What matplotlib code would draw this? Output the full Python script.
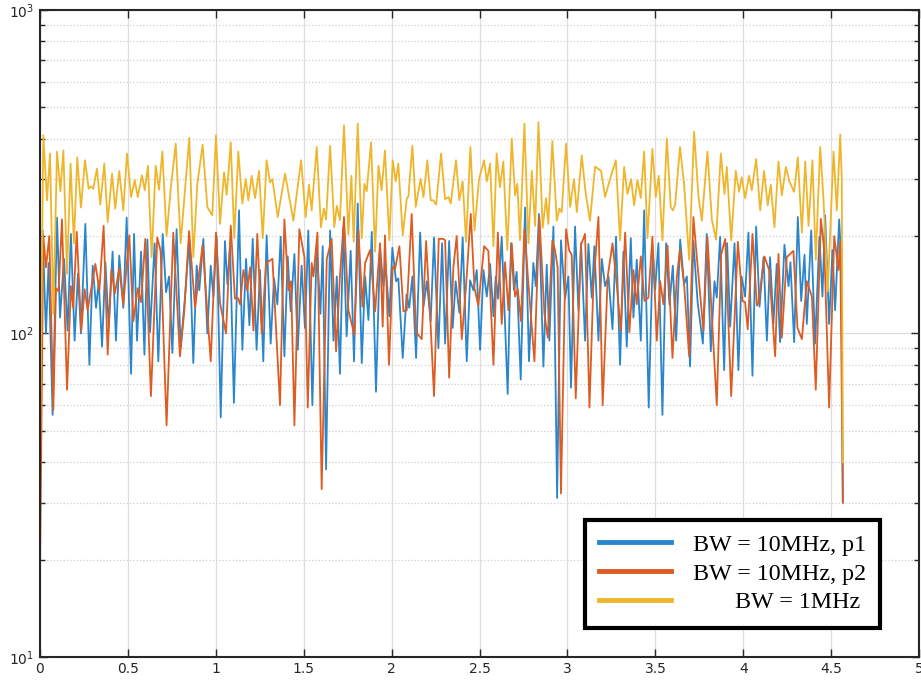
import numpy as np
import matplotlib.pyplot as plt
from matplotlib.ticker import FixedLocator, LogLocator, NullFormatter

# (x, value) pairs, one list per curve
blue = [
    (0.000, 30), (0.015, 208), (0.034, 100), (0.049, 165), (0.072, 56), (0.097, 228),
    (0.114, 112), (0.137, 170), (0.157, 102), (0.176, 203), (0.197, 95), (0.216, 153),
    (0.233, 100), (0.258, 218), (0.281, 80), (0.300, 162), (0.319, 120), (0.334, 145),
    (0.353, 91), (0.372, 166), (0.391, 105), (0.413, 179), (0.432, 95), (0.451, 174),
    (0.474, 120), (0.493, 228), (0.518, 75), (0.535, 203), (0.552, 95), (0.575, 179),
    (0.594, 86), (0.611, 195), (0.626, 101), (0.652, 190), (0.673, 82), (0.698, 203),
    (0.717, 134), (0.734, 150), (0.753, 87), (0.777, 210), (0.800, 90), (0.825, 130),
    (0.849, 196), (0.872, 81), (0.891, 162), (0.906, 136), (0.929, 196), (0.952, 100),
    (0.971, 162), (0.986, 130), (1.005, 200), (1.028, 55), (1.052, 193), (1.066, 142),
    (1.081, 186), (1.103, 61), (1.132, 240), (1.151, 89), (1.172, 170), (1.191, 106),
    (1.210, 196), (1.232, 89), (1.251, 157), (1.270, 82), (1.289, 201), (1.312, 93),
    (1.331, 148), (1.350, 123), (1.369, 199), (1.390, 85), (1.409, 173), (1.426, 117),
    (1.447, 176), (1.466, 89), (1.488, 162), (1.507, 104), (1.526, 208), (1.549, 60),
    (1.574, 186), (1.595, 115), (1.608, 186), (1.627, 38), (1.650, 208), (1.669, 95),
    (1.688, 150), (1.706, 75), (1.725, 212), (1.744, 98), (1.767, 180), (1.786, 82),
    (1.807, 252), (1.830, 81), (1.849, 150), (1.868, 110), (1.887, 206), (1.911, 66),
    (1.934, 184), (1.953, 140), (1.966, 162), (1.987, 113), (2.004, 184), (2.025, 145),
    (2.038, 148), (2.063, 84), (2.085, 132), (2.100, 120), (2.118, 150), (2.139, 84),
    (2.162, 205), (2.181, 121), (2.200, 145), (2.222, 109), (2.241, 198), (2.266, 90),
    (2.287, 190), (2.304, 93), (2.327, 193), (2.347, 104), (2.364, 145), (2.385, 116),
    (2.404, 198), (2.427, 82), (2.446, 146), (2.465, 136), (2.484, 157), (2.503, 89),
    (2.522, 157), (2.541, 130), (2.560, 164), (2.579, 113), (2.592, 150), (2.605, 128),
    (2.626, 199), (2.660, 65), (2.679, 190), (2.696, 136), (2.711, 155), (2.734, 72),
    (2.759, 245), (2.781, 82), (2.806, 165), (2.820, 140), (2.838, 234), (2.863, 79),
    (2.882, 163), (2.897, 95), (2.920, 214), (2.941, 31), (2.963, 194), (2.986, 128),
    (3.005, 150), (3.020, 68), (3.043, 214), (3.062, 118), (3.077, 190), (3.100, 95),
    (3.119, 189), (3.138, 129), (3.153, 186), (3.176, 95), (3.195, 170), (3.214, 140),
    (3.233, 150), (3.256, 103), (3.276, 199), (3.299, 80), (3.318, 179), (3.337, 91),
    (3.360, 197), (3.375, 112), (3.394, 169), (3.417, 95), (3.436, 240), (3.462, 59),
    (3.485, 180), (3.498, 136), (3.517, 190), (3.540, 56), (3.561, 190), (3.580, 123),
    (3.599, 162), (3.618, 95), (3.641, 195), (3.663, 142), (3.679, 150), (3.697, 79),
    (3.716, 193), (3.740, 125), (3.770, 93), (3.792, 203), (3.815, 88), (3.836, 145),
    (3.849, 129), (3.868, 199), (3.891, 77), (3.908, 190), (3.925, 105), (3.950, 190),
    (3.972, 77), (3.990, 150), (4.010, 130), (4.029, 205), (4.052, 74), (4.073, 214),
    (4.092, 121), (4.115, 172), (4.134, 95), (4.152, 172), (4.171, 107), (4.190, 164),
    (4.209, 94), (4.234, 188), (4.257, 140), (4.268, 166), (4.289, 94), (4.310, 229),
    (4.329, 126), (4.348, 175), (4.361, 107), (4.386, 208), (4.408, 93), (4.433, 199),
    (4.450, 130), (4.465, 232), (4.488, 107), (4.507, 181), (4.522, 118), (4.545, 225),
    (4.558, 165), (4.566, 30),
]

red = [
    (0.000, 18), (0.019, 200), (0.034, 160), (0.053, 200), (0.076, 58), (0.091, 138),
    (0.106, 135), (0.125, 225), (0.154, 67), (0.176, 140), (0.189, 120), (0.209, 206),
    (0.235, 102), (0.254, 137), (0.271, 118), (0.315, 164), (0.338, 136), (0.362, 215),
    (0.385, 86), (0.406, 157), (0.426, 133), (0.451, 159), (0.474, 123), (0.508, 201),
    (0.531, 109), (0.556, 138), (0.575, 125), (0.599, 196), (0.631, 64), (0.667, 198),
    (0.686, 180), (0.720, 52), (0.758, 205), (0.796, 85), (0.821, 118), (0.848, 207),
    (0.882, 120), (0.925, 188), (0.971, 82), (1.001, 205), (1.024, 124), (1.058, 100),
    (1.085, 215), (1.109, 128), (1.124, 129), (1.138, 123), (1.157, 157), (1.179, 136),
    (1.195, 160), (1.214, 102), (1.236, 203), (1.261, 100), (1.286, 165), (1.322, 170),
    (1.365, 60), (1.390, 225), (1.413, 136), (1.428, 145), (1.447, 52), (1.475, 210),
    (1.504, 172), (1.523, 59), (1.545, 165), (1.555, 150), (1.578, 205), (1.602, 33),
    (1.631, 170), (1.659, 196), (1.684, 88), (1.706, 150), (1.729, 229), (1.754, 118),
    (1.788, 99), (1.811, 208), (1.834, 121), (1.849, 165), (1.877, 181), (1.906, 117),
    (1.934, 190), (1.949, 105), (1.962, 201), (1.985, 80), (2.006, 161), (2.019, 158),
    (2.044, 186), (2.067, 117), (2.086, 118), (2.114, 234), (2.139, 101), (2.171, 96),
    (2.196, 193), (2.218, 117), (2.241, 64), (2.268, 196), (2.294, 196), (2.304, 194),
    (2.327, 73), (2.351, 160), (2.370, 200), (2.399, 96), (2.423, 140), (2.450, 234),
    (2.471, 138), (2.493, 122), (2.526, 186), (2.550, 180), (2.579, 80), (2.604, 205),
    (2.626, 107), (2.645, 166), (2.664, 118), (2.683, 190), (2.702, 130), (2.717, 137),
    (2.736, 109), (2.755, 210), (2.778, 142), (2.812, 82), (2.840, 229), (2.869, 115),
    (2.888, 97), (2.914, 194), (2.929, 181), (2.944, 160), (2.963, 32), (2.992, 210),
    (3.009, 181), (3.024, 175), (3.047, 63), (3.077, 188), (3.100, 203), (3.125, 59),
    (3.147, 140), (3.176, 229), (3.200, 60), (3.229, 150), (3.256, 190), (3.280, 142),
    (3.303, 102), (3.328, 205), (3.352, 101), (3.375, 157), (3.394, 123), (3.417, 173),
    (3.438, 126), (3.460, 129), (3.483, 199), (3.508, 95), (3.527, 145), (3.546, 123),
    (3.569, 187), (3.597, 84), (3.622, 150), (3.640, 182), (3.663, 142), (3.692, 85),
    (3.716, 229), (3.739, 164), (3.773, 102), (3.796, 199), (3.821, 113), (3.849, 60),
    (3.874, 175), (3.897, 196), (3.931, 64), (3.969, 192), (3.995, 126), (4.010, 125),
    (4.025, 103), (4.052, 203), (4.077, 122), (4.086, 124), (4.120, 173), (4.147, 157),
    (4.181, 85), (4.200, 176), (4.219, 97), (4.247, 172), (4.285, 180), (4.308, 104),
    (4.333, 96), (4.361, 145), (4.390, 130), (4.412, 67), (4.441, 226), (4.461, 180),
    (4.488, 59), (4.517, 200), (4.541, 157), (4.551, 192), (4.566, 30),
]

yellow = [
    (0.000, 40), (0.019, 410), (0.040, 258), (0.057, 360), (0.076, 115), (0.097, 365),
    (0.116, 275), (0.133, 368), (0.154, 153), (0.174, 335), (0.193, 190), (0.212, 350),
    (0.233, 245), (0.256, 343), (0.277, 280), (0.290, 285), (0.303, 280), (0.324, 323),
    (0.343, 250), (0.366, 335), (0.385, 221), (0.410, 312), (0.428, 243), (0.451, 318),
    (0.474, 240), (0.495, 360), (0.518, 264), (0.539, 298), (0.556, 264), (0.580, 308),
    (0.596, 277), (0.614, 330), (0.635, 172), (0.658, 330), (0.677, 278), (0.696, 365),
    (0.720, 200), (0.745, 285), (0.772, 386), (0.800, 190), (0.849, 402), (0.872, 172),
    (0.895, 290), (0.925, 383), (0.952, 246), (0.967, 238), (0.980, 232), (1.001, 410),
    (1.024, 218), (1.047, 315), (1.062, 268), (1.085, 390), (1.105, 197), (1.128, 365),
    (1.151, 252), (1.170, 300), (1.185, 258), (1.204, 307), (1.223, 262), (1.246, 318),
    (1.267, 197), (1.289, 343), (1.308, 293), (1.322, 300), (1.352, 229), (1.394, 312),
    (1.441, 223), (1.485, 343), (1.511, 229), (1.530, 288), (1.545, 240), (1.574, 377),
    (1.598, 213), (1.614, 243), (1.627, 225), (1.650, 380), (1.674, 213), (1.688, 248),
    (1.706, 224), (1.729, 440), (1.754, 202), (1.771, 307), (1.784, 192), (1.807, 445),
    (1.830, 197), (1.845, 290), (1.858, 275), (1.883, 390), (1.906, 179), (1.925, 330),
    (1.943, 277), (1.962, 368), (1.987, 194), (2.006, 343), (2.023, 295), (2.038, 335),
    (2.063, 201), (2.086, 261), (2.095, 265), (2.118, 380), (2.137, 246), (2.152, 275),
    (2.165, 300), (2.181, 264), (2.203, 343), (2.222, 258), (2.237, 258), (2.253, 250),
    (2.281, 360), (2.304, 260), (2.323, 264), (2.336, 252), (2.366, 343), (2.385, 258),
    (2.404, 295), (2.423, 192), (2.448, 377), (2.471, 208), (2.497, 300), (2.526, 343),
    (2.541, 295), (2.560, 335), (2.579, 186), (2.597, 360), (2.616, 283), (2.635, 340),
    (2.658, 181), (2.683, 400), (2.702, 267), (2.715, 290), (2.730, 194), (2.755, 445),
    (2.778, 190), (2.797, 318), (2.816, 215), (2.835, 450), (2.859, 212), (2.878, 262),
    (2.891, 218), (2.914, 393), (2.939, 223), (2.954, 243), (2.967, 237), (2.992, 386),
    (3.015, 246), (3.037, 300), (3.053, 237), (3.081, 355), (3.104, 270), (3.128, 223),
    (3.157, 328), (3.191, 318), (3.214, 264), (3.242, 300), (3.275, 343), (3.299, 194),
    (3.322, 327), (3.341, 270), (3.362, 300), (3.379, 249), (3.398, 298), (3.417, 262),
    (3.436, 365), (3.455, 197), (3.483, 372), (3.502, 264), (3.519, 307), (3.540, 194),
    (3.565, 400), (3.587, 246), (3.599, 240), (3.612, 249), (3.640, 377), (3.663, 290),
    (3.692, 169), (3.720, 420), (3.745, 265), (3.764, 223), (3.796, 365), (3.821, 225),
    (3.845, 195), (3.872, 360), (3.893, 270), (3.906, 327), (3.931, 194), (3.957, 318),
    (3.976, 274), (3.991, 304), (4.010, 262), (4.033, 307), (4.048, 277), (4.073, 346),
    (4.096, 240), (4.118, 318), (4.139, 249), (4.156, 288), (4.177, 213), (4.200, 340),
    (4.219, 267), (4.242, 327), (4.262, 295), (4.289, 274), (4.310, 350), (4.333, 205),
    (4.352, 340), (4.371, 215), (4.393, 343), (4.412, 169), (4.437, 377), (4.456, 260),
    (4.480, 135), (4.513, 365), (4.532, 240), (4.551, 412), (4.560, 300), (4.566, 40),
]

labels = ['BW = 10MHz, p1', 'BW = 10MHz, p2', '       BW = 1MHz']
colors = ['#2a86cc', '#dc5c22', '#efb62c']
x_ticks = [0, 0.5, 1, 1.5, 2, 2.5, 3, 3.5, 4, 4.5, 5]
x_tick_labels = ['0', '0.5', '1', '1.5', '2', '2.5', '3', '3.5', '4', '4.5', '5']

fig = plt.figure(figsize=(9.21, 6.85), dpi=100)
ax = fig.add_axes([0.0434, 0.041, 0.9546, 0.9445])

for series, c, lab in zip([blue, red, yellow], colors, labels):
    xs, ys = zip(*series)
    ax.plot(xs, ys, color=c, lw=1.3, label=lab)

ax.set_yscale('log')
ax.set_xlim(0, 5)
ax.set_ylim(10, 1000)
ax.set_xticks(x_ticks)
ax.set_xticklabels(x_tick_labels)
ax.yaxis.set_major_locator(FixedLocator([10, 100, 1000]))
ax.yaxis.set_minor_locator(LogLocator(base=10, subs=np.arange(2, 10)))
ax.yaxis.set_minor_formatter(NullFormatter())

ax.tick_params(which='both', direction='in', top=True, right=True,
               colors='#262626', labelsize=10, pad=4)
ax.tick_params(which='major', length=6, width=1)
ax.tick_params(which='minor', length=3.5, width=1)

ax.grid(True, which='major', color='#dedede', lw=0.9)
ax.grid(True, which='minor', axis='y', color='#cfcfcf', ls=':', lw=0.9)
ax.set_axisbelow(True)
for s in ax.spines.values():
    s.set_color('#262626')
    s.set_linewidth(1.5)

leg = ax.legend(loc='lower right', bbox_to_anchor=(0.956, 0.045), borderaxespad=0,
                prop={'family': 'Liberation Serif', 'size': 17.3},
                frameon=True, fancybox=False, framealpha=1, edgecolor='black',
                borderpad=0.6, labelspacing=0.29, handlelength=3.0, handletextpad=0.9)
leg.get_frame().set_linewidth(3)
for line in leg.get_lines():
    line.set_linewidth(3.5)

fig.savefig('out.png', dpi=100)
